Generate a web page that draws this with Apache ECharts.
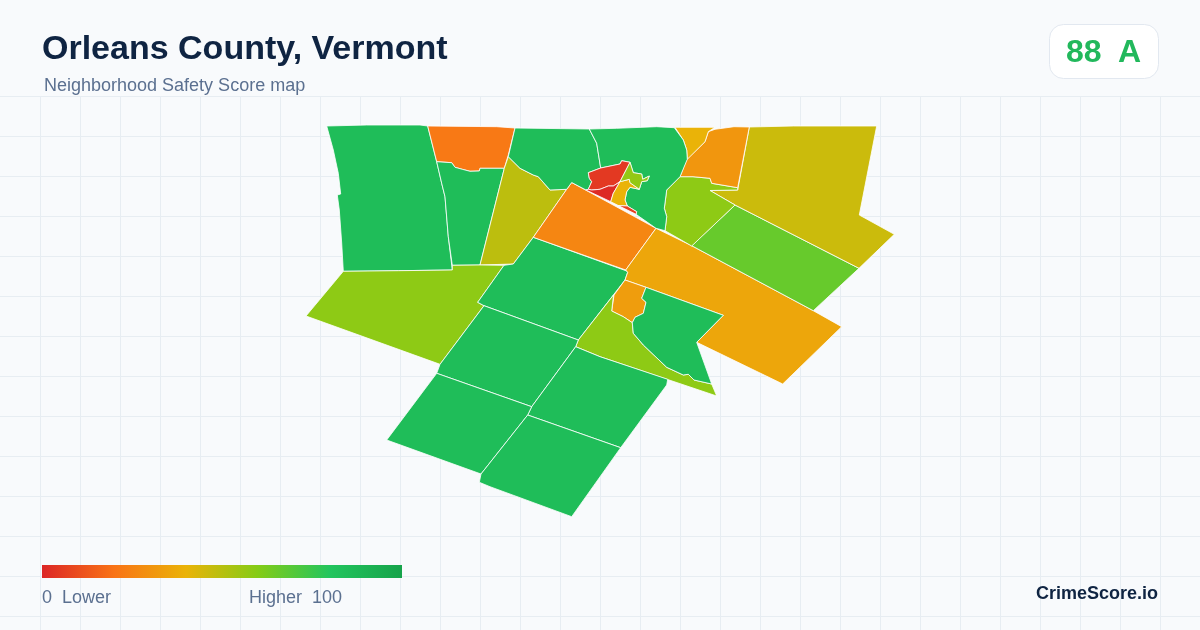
<!DOCTYPE html>
<html><head><meta charset="utf-8">
<style>html,body{margin:0;padding:0;background:#f8fafc}#c{width:1200px;height:630px}</style>
<script src="https://cdn.jsdelivr.net/npm/echarts@6/dist/echarts.min.js"></script>
</head><body><div id="c"></div>
<script>
var titleText = "Orleans County, Vermont";
var subtitleText = "Neighborhood Safety Score map";
var overallScore = 88, overallGrade = "A";
var legendMin = 0, legendMax = 100;
var scaleColors = ["#dc2626","#f97316","#eab308","#84cc16","#22c55e","#16a34a"];

var regionNames = ["Tract 1","Tract 2","Tract 3","Tract 4","Tract 5","Tract 6","Tract 7","Tract 8","Tract 9","Tract 10","Tract 11","Tract 12","Tract 13","Tract 14","Tract 15","Tract 16","Tract 17","Tract 18","Tract 19","Tract 20","Tract 21","Tract 22","Tract 23","Tract 24","Tract 25","Tract 26","Tract 27"];
var regionScores = [85,22,85,49,58,85,26,36,66,46,58,31,40,85,85,33,58,85,85,85,85,85,5,1,40,57,7];

var regionOutlines = [
 [[326.7,126],[366.7,125],[420,125],[427.7,126],[436.7,161.7],[441.7,183.3],[445,196.7],[448.3,236.7],[452.3,270],[398.3,270.7],[343.3,271.3],[341.7,243],[339.3,210],[337.3,195],[340.7,194],[338.3,173.3],[333.3,150]],
 [[427.7,126],[496.7,126.7],[515,128],[508.3,155],[504.3,168.3],[480,168.3],[479.3,171],[470,171.3],[462.3,169.3],[455,167.3],[451.7,162.7],[436.7,161.7]],
 [[436.7,161.7],[451.7,162.7],[455,167.3],[462.3,169.3],[470,171.3],[479.3,171],[480,168.3],[504.3,168.3],[480,265],[452.3,265.3],[448.3,236.7],[445,196.7],[441.7,183.3]],
 [[508.3,156.7],[520,168.3],[533.3,175],[538.3,176.7],[550,190],[566.7,189.3],[533.3,237.3],[513.3,264],[480,265],[504.3,168.3]],
 [[343.3,271.3],[398.3,270.7],[452.3,270],[452.3,265.3],[480,265],[504,265.3],[477.7,302.3],[484,305.7],[440,364.3],[306,316]],
 [[513.3,264],[533.3,237.3],[626.7,271],[627.7,272.3],[625,280],[578.3,340],[484,305.7],[477.7,302.3],[504,265.3]],
 [[571.7,182.5],[656,228.3],[625.7,270],[533.3,237.3],[566.7,189.3]],
 [[656,228.3],[691.7,245.7],[813.3,310.7],[841.7,326.7],[782.7,384],[696.7,342.3],[723.3,315.3],[646,287.3],[625,280],[627.7,272.3],[625.7,270]],
 [[691.7,245.7],[735,205],[859,268.3],[813.3,310.7]],
 [[749.3,127],[793.3,126],[876.7,126],[859.3,215],[894.3,234.3],[859,268.3],[735,205],[710,190.5],[737.7,190],[738.3,186.7]],
 [[680,176.7],[693,176.7],[710,178.3],[711.7,183.3],[737.7,187.7],[737.7,190],[710,190.5],[735,205],[691.7,246],[665,230.7],[666.7,216.7],[664.3,208.3],[666.7,190],[670,186.7]],
 [[749.3,127],[734,126.7],[715,129.3],[708.3,131.7],[705,141.7],[686.7,159.3],[680,176.7],[693,176.7],[710,178.3],[711.7,183.3],[737.7,187.7]],
 [[675,127.3],[715,127.3],[708.3,131.7],[705,141.7],[687.3,159.3],[686.7,150],[683.3,140]],
 [[515,128],[589.3,129],[596.7,143.3],[600.7,168],[588.3,172.7],[589.3,178.3],[591.7,181.7],[588.3,189.3],[586,190],[571.7,182.5],[566.7,189.3],[550,190],[538.3,176.7],[533.3,175],[520,168.3],[508.3,156.7]],
 [[589.3,129],[616.7,128.3],[656.7,126.7],[674.3,127.7],[683.3,140],[686.7,150],[687.3,159.3],[680,176.7],[670,186.7],[666.7,190],[664.3,208.3],[666.7,216.7],[665,230.7],[656,228.3],[636,214.3],[636.7,211.7],[627.3,206],[625,200],[626.7,191.7],[630,187.3],[639.3,189.3],[641.7,181.7],[647.3,180.7],[649.3,176],[642.7,179.3],[641.7,174],[633.3,172.7],[630,162.3],[621.7,160.7],[620,164],[600.7,168],[596.7,143.3]],
 [[625,280],[646,287.3],[641.7,298.3],[646,302.3],[643.3,313.3],[635,317.3],[632.3,322.7],[623.3,316.7],[611.7,311],[614,295],[613.5,295]],
 [[613.5,295],[614,295],[611.7,311],[623.3,316.7],[632.3,322.7],[633.3,333.3],[643.3,345],[666.7,367.3],[683.3,375],[688.3,374.3],[694,380],[711.7,384],[716.7,396],[600,356.7],[575.7,346.7],[578.3,340]],
 [[646,287.3],[723.3,315.3],[696.7,342.3],[711.7,384],[694,380],[688.3,374.3],[683.3,375],[666.7,367.3],[643.3,345],[633.3,333.3],[632.3,322.7],[635,317.3],[643.3,313.3],[646,302.3],[641.7,298.3]],
 [[484,305.7],[578.3,340],[575.7,346.7],[531.7,406.7],[436.7,373.3],[440,364.3]],
 [[575.7,346.7],[600,356.7],[667.7,379.3],[666.7,385],[620.7,447.7],[527.7,415],[531.7,406.7]],
 [[436.7,373.3],[531.7,406.7],[527.7,415],[481,474],[386.7,440]],
 [[527.7,415],[620.7,447.7],[571.7,516.7],[490,486.7],[479.3,482.3],[481,474]],
 [[588.3,172.7],[600.7,168],[620,164],[621.7,160.7],[630,162.3],[620,181.7],[613.3,186],[608.3,186],[600,189.3],[591.7,190],[588.3,189.3],[591.7,181.7],[589.3,178.3]],
 [[586,190],[588.3,189.3],[591.7,190],[600,189.3],[608.3,186],[613.3,186],[620,181.7],[613.3,193.3],[610.7,201.7]],
 [[620,181.7],[629.3,179.3],[630,182.7],[639.3,189.3],[630,187.3],[626.7,191.7],[625,200],[627.3,206],[618.3,205.5],[610.7,201.7],[613.3,193.3]],
 [[630,162.3],[633.3,172.7],[641.7,174],[642.7,179.3],[649.3,176],[647.3,180.7],[641.7,181.7],[639.3,189.3],[630,182.7],[629.3,179.3],[620,181.7]],
 [[618.3,205.5],[627.3,206],[636.7,211.7],[636,214.3]]
];

var features = regionOutlines.map(function(ring,i){
  return {type:"Feature",properties:{name:regionNames[i]},geometry:{type:"Polygon",coordinates:[ring.concat([ring[0]])]}};
});
echarts.registerMap("orleans",{type:"FeatureCollection",features:features});

var gridEls = [], gx, gy;
for (gx=40; gx<1200; gx+=40) gridEls.push({type:"line",silent:true,z:0,shape:{x1:gx+.5,y1:96,x2:gx+.5,y2:630},style:{stroke:"#e7edf2",lineWidth:1}});
for (gy=96; gy<630; gy+=40) gridEls.push({type:"line",silent:true,z:0,shape:{x1:0,y1:gy+.5,x2:1200,y2:gy+.5},style:{stroke:"#e7edf2",lineWidth:1}});

var font = '"Liberation Sans", Arial, sans-serif';
var chart = echarts.init(document.getElementById("c"),null,{renderer:"canvas"});
chart.setOption({
  animation:false,
  backgroundColor:"#f8fafc",
  title:[
    {text:titleText,left:42,top:33,padding:0,textStyle:{fontFamily:font,fontSize:34,fontWeight:"bold",color:"#0f2442"}},
    {text:subtitleText,left:44,top:77,padding:0,textStyle:{fontFamily:font,fontSize:18,fontWeight:"normal",color:"#5b7090"}}
  ],
  visualMap:{type:"continuous",show:false,min:legendMin,max:legendMax,inRange:{color:scaleColors},seriesIndex:0},
  series:[{type:"map",map:"orleans",silent:true,roam:false,aspectScale:1,
    projection:{project:function(p){return p;},unproject:function(p){return p;}},
    layoutCenter:[600.15,320.85],layoutSize:588.3,
    label:{show:false},
    itemStyle:{borderColor:"#ffffff",borderWidth:0.8},
    emphasis:{disabled:true},select:{disabled:true},
    data:regionNames.map(function(n,i){return {name:n,value:regionScores[i]};})}],
  graphic:gridEls.concat([
    {type:"rect",z:3,shape:{x:42,y:565,width:360,height:13},style:{fill:new echarts.graphic.LinearGradient(0,0,1,0,scaleColors.map(function(c,i){return {offset:i/(scaleColors.length-1),color:c};}))}},
    {type:"rect",z:3,shape:{x:1049.5,y:24.5,width:109,height:54,r:14},style:{fill:"#ffffff",stroke:"#e2e8f0",lineWidth:1}},
    {type:"text",z:4,x:1066,y:53,style:{text:String(overallScore),font:"bold 32px "+font,fill:"#22b85c",textVerticalAlign:"middle"}},
    {type:"text",z:4,x:1118,y:53,style:{text:overallGrade,font:"bold 32px "+font,fill:"#22b85c",textVerticalAlign:"middle"}},
    {type:"text",z:4,x:42,y:598,style:{text:legendMin+"  Lower",font:"18px "+font,fill:"#5b7090",textVerticalAlign:"middle"}},
    {type:"text",z:4,x:342,y:598,style:{text:"Higher  "+legendMax,font:"18px "+font,fill:"#5b7090",textAlign:"right",textVerticalAlign:"middle"}},
    {type:"text",z:4,x:1158,y:594.5,style:{text:"CrimeScore.io",font:"bold 18px "+font,fill:"#0f2442",textAlign:"right",textVerticalAlign:"middle"}}
  ])
});
</script>
</body></html>
